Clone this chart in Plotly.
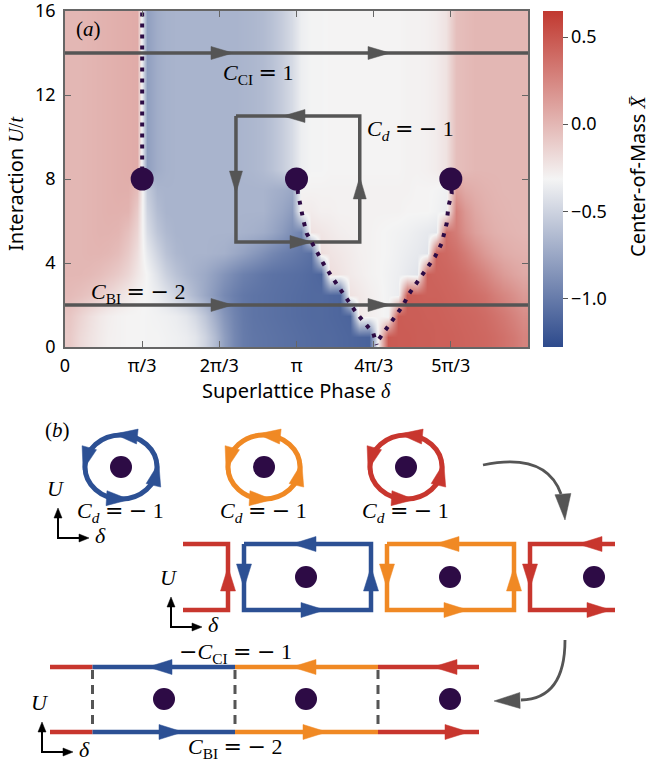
import math
import plotly.graph_objects as go

W, H = 650, 762
PI = math.pi
SANS = "Noto Sans, Lato, sans-serif"
SERIF = "Liberation Serif, DejaVu Serif, serif"
GRAY = "rgb(85,85,85)"
DOT = "#2d0b45"
BLUE = "rgb(44,80,148)"
ORANGE = "rgb(240,137,36)"
RED = "rgb(200,54,46)"

# ---------------- panel (a): phase diagram data ----------------
DELTA_CENTERS = [(i + 0.5) * PI / 24 for i in range(48)]   # cell centres in delta
U_CENTERS = [k + 0.5 for k in range(16)]                    # cell centres in U/t

ROW_U05 = [-0.10, -0.17, -0.22, -0.26, -0.29,
           -0.30, -0.31, -0.31, -0.32, -0.32, -0.33, -0.34, -0.36,
           -0.40, -0.50, -0.64, -0.80, -0.93, -1.00,
           -1.03, -1.04, -1.05, -1.06, -1.07, -1.08, -1.09, -1.10, -1.10, -1.11, -1.12, -1.13, -1.14,
           -0.28,
           0.48, 0.47, 0.47, 0.46, 0.46, 0.45, 0.45, 0.44, 0.43, 0.42, 0.41, 0.39, 0.36, 0.32, 0.27]
ROW_U15 = [-0.08, -0.14, -0.20, -0.25, -0.28,
           -0.30, -0.31, -0.31, -0.32, -0.33, -0.34, -0.36,
           -0.40, -0.47, -0.58, -0.72, -0.85, -0.95, -1.01,
           -1.04, -1.05, -1.06, -1.07, -1.08, -1.09, -1.10, -1.10, -1.11, -1.12, -1.13,
           -0.25, -0.28, -0.30, -0.33,
           0.47, 0.46, 0.46, 0.45, 0.45, 0.44, 0.43, 0.42, 0.41, 0.39, 0.36, 0.32, 0.27, 0.22]
ROW_U25 = [-0.02, -0.04, -0.07, -0.11, -0.16, -0.21, -0.26, -0.30,
           -0.32, -0.36, -0.42, -0.50, -0.58, -0.66, -0.75, -0.84, -0.92, -0.98, -1.02,
           -1.04, -1.05, -1.06, -1.07, -1.08, -1.09, -1.10, -1.10, -1.11, -1.12,
           -0.22, -0.25, -0.28, -0.30, -0.33, -0.36,
           0.46, 0.45, 0.44, 0.44, 0.43, 0.42, 0.40, 0.38, 0.35, 0.30, 0.25, 0.20, 0.15]
ROW_U35 = [0.00, 0.00, -0.01, -0.03, -0.06, -0.10, -0.16, -0.24, -0.32, -0.42, -0.52, -0.60, -0.66,
           -0.70, -0.74, -0.80, -0.86, -0.92, -0.97, -1.00, -1.03, -1.05, -1.06, -1.07, -1.08, -1.10, -1.12,
           -0.20, -0.23, -0.26, -0.28, -0.30, -0.31, -0.33, -0.35, -0.38, -0.41,
           0.44, 0.43, 0.42, 0.40, 0.37, 0.32, 0.26, 0.20, 0.14, 0.10, 0.07]
ROW_U45 = [0.00, 0.00, 0.01, 0.01, 0.00, -0.03, -0.10, -0.20, -0.38, -0.50, -0.60, -0.66, -0.68,
           -0.68, -0.68, -0.69, -0.70, -0.74, -0.78, -0.83, -0.88, -0.93, -0.97, -1.00, -1.03, -1.06,
           -0.20, -0.23, -0.25, -0.27, -0.29, -0.30, -0.31, -0.32, -0.34, -0.36, -0.38, -0.41,
           0.42, 0.40, 0.36, 0.30, 0.22, 0.15, 0.10, 0.06, 0.04, 0.03]
ROW_U55 = [0.00, 0.00, 0.01, 0.02, 0.02, 0.01, -0.05, -0.15, -0.45, -0.58, -0.65, -0.68,
           -0.68, -0.68, -0.68, -0.68, -0.68, -0.68, -0.69, -0.70, -0.72, -0.76, -0.82, -0.90, -0.95,
           -0.22, -0.24, -0.26, -0.28, -0.29, -0.30, -0.30, -0.31, -0.32, -0.33, -0.34, -0.36, -0.38, -0.40,
           0.36, 0.30, 0.20, 0.12, 0.07, 0.04, 0.02, 0.01, 0.00]
ROW_U65 = [0.00, 0.00, 0.01, 0.02, 0.03, 0.03, 0.02, -0.10, -0.50, -0.63, -0.68,
           -0.68, -0.68, -0.68, -0.68, -0.68, -0.68, -0.68, -0.68, -0.68, -0.68, -0.72, -0.76, -0.82,
           -0.28, -0.27, -0.29, -0.29, -0.30, -0.30, -0.30, -0.30, -0.30, -0.30, -0.30, -0.31, -0.31, -0.31,
           -0.33, -0.36,
           0.28, 0.16, 0.08, 0.04, 0.02, 0.01, 0.00, 0.00]
ROW_U75 = [0.00, 0.00, 0.01, 0.02, 0.03, 0.04, 0.04, -0.03, -0.55, -0.67,
           -0.68, -0.68, -0.68, -0.68, -0.68, -0.68, -0.68, -0.68, -0.68, -0.68, -0.68, -0.70, -0.72, -0.75,
           -0.30, -0.30, -0.30, -0.30, -0.30, -0.30, -0.30, -0.30, -0.30, -0.30, -0.30, -0.30,
           -0.31, -0.31, -0.32, -0.34,
           0.14, 0.07, 0.04, 0.02, 0.01, 0.00, 0.00, 0.00]
ROW_UPPER = [0.00, 0.00, 0.01, 0.02, 0.03, 0.04, 0.05, 0.06,
             -0.80, -0.72, -0.69, -0.68, -0.68, -0.68, -0.68, -0.68, -0.68, -0.68, -0.67, -0.66,
             -0.64, -0.60, -0.54, -0.46,
             -0.35, -0.32, -0.32, -0.31, -0.31, -0.31, -0.31, -0.31, -0.31, -0.31, -0.31, -0.30,
             -0.30, -0.29, -0.27, -0.22,
             -0.04, -0.02, 0.00, 0.00, 0.00, 0.00, 0.00, 0.00]
Z = [ROW_U05, ROW_U15, ROW_U25, ROW_U35, ROW_U45, ROW_U55, ROW_U65, ROW_U75] + [ROW_UPPER] * 8
Z_MIN, Z_MAX = -1.28, 0.65

X_TICKS = [0, PI / 3, 2 * PI / 3, PI, 4 * PI / 3, 5 * PI / 3]
X_TICK_TEXT = ["0", "π/3", "2π/3", "π", "4π/3", "5π/3"]
Y_TICKS = [0, 4, 8, 12, 16]
CB_TICKS = [0.5, 0.0, -0.5, -1.0]
CB_TICK_TEXT = ["0.5", "0.0", "−0.5", "−1.0"]

CRIT_X = [PI / 3, PI, 5 * PI / 3]
CRIT_Y = [8, 8, 8]
VERT_X = [PI / 3, PI / 3]
VERT_Y = [8.4, 16]
LEFT_ARM_X = [PI, 3.162, 3.234, 3.280, 3.393, 3.505, 3.619, 3.732, 3.845, 3.959, 4.071, 4.184, 4.230]
LEFT_ARM_Y = [8.0, 7.33, 6.05, 5.41, 4.70, 3.98, 3.35, 2.79, 2.24, 1.60, 1.13, 0.65, 0.10]
RIGHT_ARM_X = [5 * PI / 3, 5.248, 5.202, 5.180, 5.157, 5.112, 5.021, 4.930, 4.841, 4.750, 4.659,
               4.591, 4.478, 4.388, 4.298, 4.252, 4.234]
RIGHT_ARM_Y = [8.0, 7.32, 6.68, 5.89, 5.57, 4.94, 4.30, 3.83, 3.35, 2.87, 2.48, 2.00, 1.44,
               0.97, 0.57, 0.33, 0.10]

PATH_U = [14, 2]
PATH_HEAD_X = [2.280, 4.411]
LOOP_X = [2.32, 4.00]
LOOP_Y = [5, 11]
LOOP_HEADS = [(2.958, 11, -1, 0), (2.32, 7.33, 0, -1), (3.352, 5, 1, 0), (4.00, 8.1, 0, 1)]

# ---------------- panel (b): schematic data (pixel units) ----------------
B_TOP = 404
ROW1_CX = [121, 264, 406]
ROW1_CY = 467
ROW1_COLORS = [BLUE, ORANGE, RED]
RING_RX, RING_RY = 36, 32
RING_HEAD_MID_DEG = [83, 166, 266, 348]

ROW2_LEFT = [244, 387, 530]
ROW2_COLORS = [BLUE, ORANGE, RED]
RECT_W, RECT_T, RECT_B = 127, 544, 610
ROW2_OPEN_LEFT, ROW2_OPEN_RIGHT = 183, 615
ROW2_DOT_X = [306, 450, 594]
ROW2_DOT_Y = 577

ROW3_EDGES = [50, 92.5, 235, 378, 479]
ROW3_COLORS = [RED, BLUE, ORANGE, RED]
ROW3_T, ROW3_B = 667, 732
ROW3_TOP_HEADS = [148, 292, 433]
ROW3_BOT_HEADS = [183, 327, 469]
ROW3_DOT_X = [164, 306, 450]
ROW3_DOT_Y = 699

ICON_ORIGINS = [(58, 538), (171, 627), (42, 752)]

# ---------------- helpers ----------------
def heads(specs, L, Wd, sx=1.0, sy=1.0):
    xs, ys = [], []
    for tx, ty, ux, uy in specs:
        vx, vy = ux * sx, uy * sy
        n = math.hypot(vx, vy)
        vx, vy = vx / n, vy / n
        TX, TY = tx * sx, ty * sy
        BX, BY = TX - L * vx, TY - L * vy
        px, py = -vy, vx
        pts = [(TX, TY), (BX + Wd / 2 * px, BY + Wd / 2 * py), (BX - Wd / 2 * px, BY - Wd / 2 * py), (TX, TY)]
        xs += [p[0] / sx for p in pts] + [None]
        ys += [p[1] / sy for p in pts] + [None]
    return xs, ys


def head_trace(specs, L, Wd, color, sx=1.0, sy=1.0, xa="x", ya="y"):
    xs, ys = heads(specs, L, Wd, sx, sy)
    return go.Scatter(x=xs, y=ys, xaxis=xa, yaxis=ya, mode="lines", fill="toself",
                      fillcolor=color, line=dict(color=color, width=0.5),
                      hoverinfo="skip", showlegend=False)


def line_trace(x, y, color, width, xa="x", ya="y", dash=None):
    return go.Scatter(x=x, y=y, xaxis=xa, yaxis=ya, mode="lines",
                      line=dict(color=color, width=width, dash=dash),
                      hoverinfo="skip", showlegend=False)


fig = go.Figure()

# ---------------- panel (a) ----------------
AX_L, AX_R, AX_T, AX_B = 65, 528, 11, 347
SX = (AX_R - AX_L) / (2 * PI)
SY = (AX_B - AX_T) / 16

fig.add_trace(go.Heatmap(
    x=DELTA_CENTERS, y=U_CENTERS, z=Z, zmin=Z_MIN, zmax=Z_MAX, zsmooth="best",
    colorscale=[[0, "rgb(45,74,140)"], [0.5, "rgb(244,244,244)"], [1, "rgb(193,57,48)"]],
    hoverinfo="skip",
    colorbar=dict(x=543 / W, xanchor="left", y=1 - 179 / H, yanchor="middle",
                  len=(AX_B - AX_T) / H, lenmode="fraction", thickness=20, thicknessmode="pixels",
                  xpad=0, ypad=0, outlinewidth=0,
                  tickvals=CB_TICKS, ticktext=CB_TICK_TEXT, ticks="outside", ticklen=5,
                  tickwidth=1.2, tickcolor="#555", tickfont=dict(family=SANS, size=18, color="black"))))

for u in PATH_U:
    fig.add_trace(line_trace([0, 2 * PI], [u, u], GRAY, 3.5))
fig.add_trace(line_trace([LOOP_X[0], LOOP_X[1], LOOP_X[1], LOOP_X[0], LOOP_X[0]],
                         [LOOP_Y[1], LOOP_Y[1], LOOP_Y[0], LOOP_Y[0], LOOP_Y[1]], GRAY, 3.5))
path_specs = [(hx, u, 1, 0) for u in PATH_U for hx in PATH_HEAD_X]
fig.add_trace(head_trace(path_specs + LOOP_HEADS, 22, 13, GRAY, SX, SY))

for xs, ys in [(VERT_X, VERT_Y), (LEFT_ARM_X, LEFT_ARM_Y), (RIGHT_ARM_X, RIGHT_ARM_Y)]:
    fig.add_trace(line_trace(xs, ys, DOT, 4, dash="4px,7px"))
fig.add_trace(go.Scatter(x=CRIT_X, y=CRIT_Y, mode="markers", marker=dict(color=DOT, size=23),
                         hoverinfo="skip", showlegend=False, cliponaxis=False))

# ---------------- panel (b) ----------------
XB, YB = "x2", "y2"
shapes = []
ring_specs = {c: [] for c in ROW1_COLORS}
for cx, col in zip(ROW1_CX, ROW1_COLORS):
    shapes.append(dict(type="circle", xref=XB, yref=YB, x0=cx - RING_RX, x1=cx + RING_RX,
                       y0=ROW1_CY - RING_RY, y1=ROW1_CY + RING_RY, line=dict(color=col, width=5)))
    for deg in RING_HEAD_MID_DEG:
        p = math.radians(deg)
        mx, my = cx + RING_RX * math.cos(p), ROW1_CY - RING_RY * math.sin(p)
        tx, ty = -RING_RX * math.sin(p), -RING_RY * math.cos(p)
        n = math.hypot(tx, ty)
        tx, ty = tx / n, ty / n
        ring_specs[col].append((mx + 11 * tx, my + 11 * ty, tx, ty))

# curved gray arrows
shapes.append(dict(type="path", xref=XB, yref=YB, path="M 483 465 Q 546 452 561 494",
                   line=dict(color=GRAY, width=2.8)))
shapes.append(dict(type="path", xref=XB, yref=YB, path="M 565 640 Q 565 699 521 700",
                   line=dict(color=GRAY, width=2.8)))
fig.add_trace(head_trace([(565, 520, 0.08, 1), (494, 701, -1, 0.02)], 26, 16, GRAY, xa=XB, ya=YB))

for col in ROW1_COLORS:
    fig.add_trace(head_trace(ring_specs[col], 23, 15, col, xa=XB, ya=YB))

# row 2 rectangles
row2_heads = {c: [] for c in set(ROW2_COLORS)}
for lft, col in zip(ROW2_LEFT, ROW2_COLORS):
    rgt = lft + RECT_W
    if rgt <= ROW2_OPEN_RIGHT:
        fig.add_trace(line_trace([lft, rgt, rgt, lft, lft], [RECT_T, RECT_T, RECT_B, RECT_B, RECT_T],
                                 col, 4.5, XB, YB))
        row2_heads[col].append((rgt, 567, 0, -1))
    else:
        fig.add_trace(line_trace([ROW2_OPEN_RIGHT, lft, lft, ROW2_OPEN_RIGHT],
                                 [RECT_T, RECT_T, RECT_B, RECT_B], col, 4.5, XB, YB))
    row2_heads[col] += [(lft + 48, RECT_T, -1, 0), (lft + 81, RECT_B, 1, 0), (lft, 588, 0, 1)]
# red partial cell on the left
lft0 = ROW2_LEFT[0] - (ROW2_LEFT[1] - ROW2_LEFT[0])
rgt0 = lft0 + RECT_W
fig.add_trace(line_trace([ROW2_OPEN_LEFT, rgt0, rgt0, ROW2_OPEN_LEFT], [RECT_T, RECT_T, RECT_B, RECT_B],
                         RED, 4.5, XB, YB))
row2_heads[RED].append((rgt0, 567, 0, -1))
for col, specs in row2_heads.items():
    fig.add_trace(head_trace(specs, 24, 15, col, xa=XB, ya=YB))

# row 3 edge lines
for i, col in enumerate(ROW3_COLORS):
    for yy in (ROW3_T, ROW3_B):
        fig.add_trace(line_trace([ROW3_EDGES[i], ROW3_EDGES[i + 1]], [yy, yy], col, 4.5, XB, YB))
for xe in ROW3_EDGES[1:4]:
    fig.add_trace(line_trace([xe, xe], [ROW3_T + 3, ROW3_B - 3], GRAY, 3, XB, YB, dash="9px,6px"))
for i, col in enumerate(ROW3_COLORS[1:]):
    fig.add_trace(head_trace([(ROW3_TOP_HEADS[i], ROW3_T, -1, 0), (ROW3_BOT_HEADS[i], ROW3_B, 1, 0)],
                             24, 15, col, xa=XB, ya=YB))

# dots
fig.add_trace(go.Scatter(x=ROW1_CX + ROW2_DOT_X + ROW3_DOT_X,
                         y=[ROW1_CY] * 3 + [ROW2_DOT_Y] * 3 + [ROW3_DOT_Y] * 3,
                         xaxis=XB, yaxis=YB, mode="markers", marker=dict(color=DOT, size=22),
                         hoverinfo="skip", showlegend=False))

# axis icons
icon_specs = []
for ox, oy in ICON_ORIGINS:
    fig.add_trace(line_trace([ox, ox, ox + 27], [oy - 26, oy, oy], "black", 2, XB, YB))
    icon_specs += [(ox, oy - 30, 0, -1), (ox + 31, oy, 1, 0)]
fig.add_trace(head_trace(icon_specs, 10, 8, "black", xa=XB, ya=YB))

# ---------------- annotations ----------------
OP = '<span style="font-family:DejaVu Sans">{}</span>'
EQ = OP.format("=")
MI = OP.format("−")


def math_ann(text, x, y, size=22, angle=0, family=SERIF):
    return dict(text=text, x=x, y=y, xref="paper", yref="paper", showarrow=False, textangle=angle,
                xanchor="center", yanchor="middle", font=dict(family=family, size=size, color="black"))


def pa(xp, yp):
    return xp / W, 1 - yp / H


ann = []
ann.append(math_ann("(<i>a</i>)", *pa(88, 29), size=21))
ann.append(math_ann(f"<i>C</i><sub>CI</sub> {EQ} 1", *pa(258, 74), size=22))
ann.append(math_ann(f"<i>C</i><sub><i>d</i></sub> {EQ} {MI} 1", *pa(410, 130), size=22))
ann.append(math_ann(f"<i>C</i><sub>BI</sub> {EQ} {MI} 2", *pa(138, 293), size=22))
ann.append(math_ann('Interaction <span style="font-family:Liberation Serif"><i>U</i>/<i>t</i></span>',
                    *pa(16, 184), size=20, angle=-90, family=SANS))
ann.append(math_ann('Superlattice Phase <span style="font-family:Liberation Serif"><i>δ</i></span>',
                    *pa(296, 390), size=20, family=SANS))
ann.append(math_ann('Center-of-Mass <span style="font-family:Liberation Serif"><i>X̄</i></span>',
                    *pa(637, 176), size=20, angle=-90, family=SANS))

ann.append(math_ann("(<i>b</i>)", *pa(57, 430), size=21))
for cx in ROW1_CX:
    ann.append(math_ann(f"<i>C</i><sub><i>d</i></sub> {EQ} {MI} 1", *pa(cx - 1, 512), size=22))
ann.append(math_ann(f"{MI}<i>C</i><sub>CI</sub> {EQ} {MI} 1", *pa(235, 653), size=22))
ann.append(math_ann(f"<i>C</i><sub>BI</sub> {EQ} {MI} 2", *pa(235, 748), size=22))
for ox, oy in ICON_ORIGINS:
    ann.append(math_ann("<i>U</i>", *pa(ox - 2, oy - 50), size=22))
    ann.append(math_ann("<i>δ</i>", *pa(ox + 42, oy - 3), size=22))

fig.update_layout(
    width=W, height=H, margin=dict(l=0, r=0, t=0, b=0, autoexpand=False),
    paper_bgcolor="white", plot_bgcolor="rgba(0,0,0,0)",
    font=dict(family=SANS, size=18, color="black"),
    xaxis=dict(domain=[AX_L / W, AX_R / W], range=[0, 2 * PI], tickvals=X_TICKS, ticktext=X_TICK_TEXT,
               ticks="inside", ticklen=6, tickwidth=1.2, tickcolor="#666", showline=True,
               linecolor="#666", linewidth=1.5, mirror="ticks", showgrid=False, zeroline=False,
               ticklabelstandoff=2, tickfont=dict(family=SANS, size=18), anchor="y",
               automargin=False, ticklabeloverflow="allow"),
    yaxis=dict(domain=[1 - AX_B / H, 1 - AX_T / H], range=[0, 16], tickvals=Y_TICKS,
               ticks="inside", ticklen=6, tickwidth=1.2, tickcolor="#666", showline=True,
               linecolor="#666", linewidth=1.5, mirror="ticks", showgrid=False, zeroline=False,
               ticklabelstandoff=4, tickfont=dict(family=SANS, size=18), anchor="x",
               automargin=False, ticklabeloverflow="allow"),
    xaxis2=dict(domain=[0, 1], range=[0, W], visible=False, anchor="y2", fixedrange=True,
                automargin=False),
    yaxis2=dict(domain=[0, (H - B_TOP) / H], range=[H, B_TOP], visible=False, anchor="x2",
                fixedrange=True, automargin=False),
    shapes=shapes, annotations=ann,
)

fig.write_html("out.html", config={"displayModeBar": False},
               post_script="document.body.style.margin='0px';document.body.style.overflow='hidden';")
